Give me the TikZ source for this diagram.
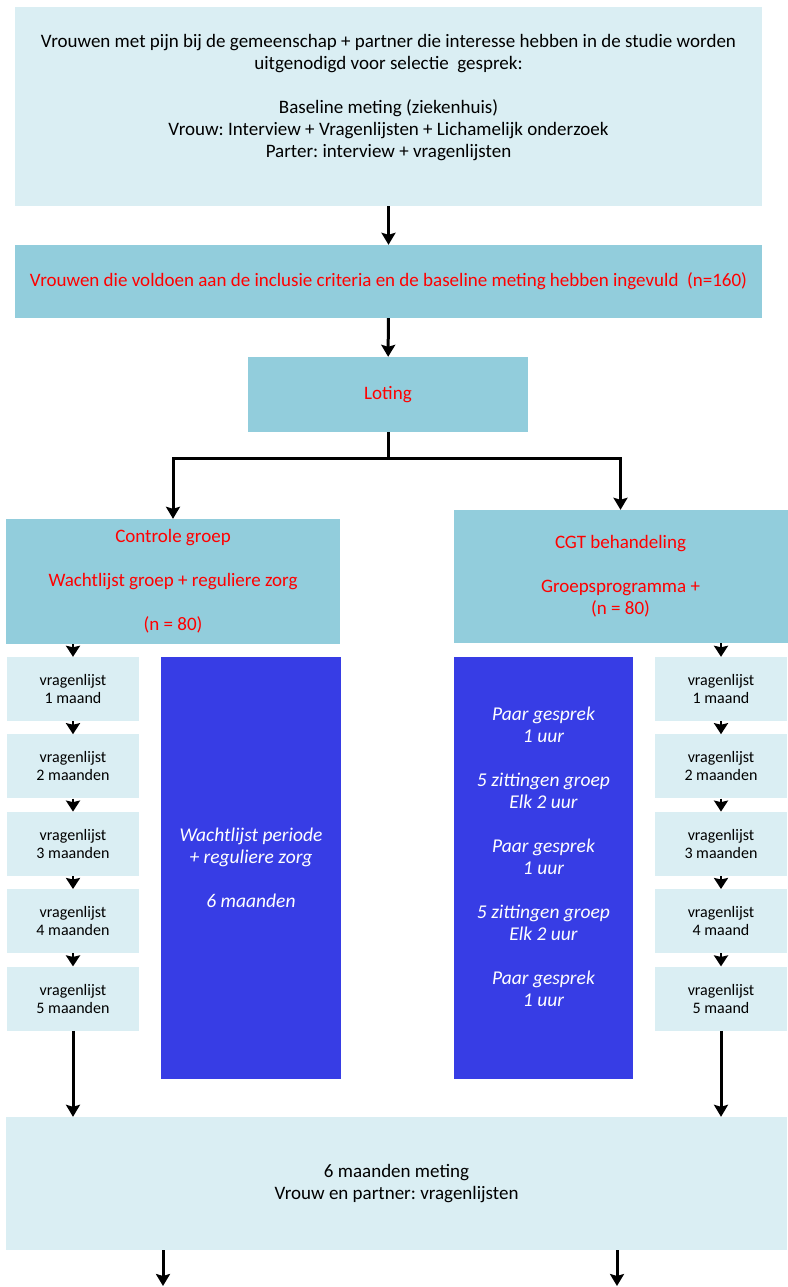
\documentclass[tikz,border=0pt]{standalone}
\usepackage{fontspec}
\setmainfont{Carlito}
\usetikzlibrary{arrows.meta,positioning}
\frenchspacing

\definecolor{paleblue}{HTML}{DAEEF3}
\definecolor{midblue}{HTML}{92CDDC}
\definecolor{deepblue}{HTML}{373DE5}
\definecolor{alert}{HTML}{FF0000}

\begin{document}
\begin{tikzpicture}[x=1pt,y=-1pt,node distance=13pt,pale/.style={fill=paleblue,inner sep=0pt,align=center,font=\fontsize{19}{22}\selectfont},mid/.style={fill=midblue,inner sep=0pt,align=center,text=alert,font=\fontsize{19}{22}\selectfont},period/.style={fill=deepblue,inner sep=0pt,align=center,text=white,font=\fontsize{19.5}{22}\selectfont\itshape,minimum height=422pt},quest/.style={fill=paleblue,inner sep=0pt,align=center,font=\fontsize{16}{18}\selectfont,minimum width=132pt,minimum height=64pt},arrow/.style={-{Stealth[length=12pt,width=14pt,inset=2pt]},line width=3pt},small/.style={-{Stealth[length=11pt,width=14pt,inset=1.5pt]},line width=2.5pt}]
\useasboundingbox (0,0) rectangle (787,1287);
\node[pale,minimum width=747pt,minimum height=199pt] (invite) at (388.5,106.5) {Vrouwen met pijn bij de gemeenschap + partner die interesse hebben in de studie worden\\uitgenodigd voor selectie\ \ gesprek:\\[22pt]Baseline meting (ziekenhuis)\\Vrouw: Interview + Vragenlijsten + Lichamelijk onderzoek\\Parter: interview + vragenlijsten\\ ~};
\node[mid,minimum width=747pt,minimum height=73pt] (incl) at (388.5,281.5) {Vrouwen die voldoen aan de inclusie criteria en de baseline meting hebben ingevuld\ \ (n=160)};
\node[mid,minimum width=280pt,minimum height=75pt] (lot) at (388,394.5) {Loting};
\draw[arrow] (invite) -- (incl); \draw[arrow] (incl) -- (lot);
\node[mid,minimum width=334pt,minimum height=125pt] (ctrl) at (173,581.5) {Controle groep\\[22pt]Wachtlijst groep + reguliere zorg\\[22pt](n = 80)};
\node[mid,minimum width=334pt,minimum height=133pt] (cgt) at (620.5,576.5) {CGT behandeling\\[22pt]Groepsprogramma +\\(n = 80)};
\coordinate (split) at (388,458);
\draw[line width=3pt] (lot) -- (split); \draw[arrow] (split) -| (ctrl); \draw[arrow] (split) -| (cgt);
\node[quest] (lq1) at (73,689) {vragenlijst\\1 maand};
\node[quest,below=of lq1] (lq2) {vragenlijst\\2 maanden};
\node[quest,below=of lq2] (lq3) {vragenlijst\\3 maanden};
\node[quest,below=of lq3] (lq4) {vragenlijst\\4 maanden};
\node[quest,below=of lq4] (lq5) {vragenlijst\\5 maanden};
\node[quest] (rq1) at (721,689) {vragenlijst\\1 maand};
\node[quest,below=of rq1] (rq2) {vragenlijst\\2 maanden};
\node[quest,below=of rq2] (rq3) {vragenlijst\\3 maanden};
\node[quest,below=of rq3] (rq4) {vragenlijst\\4 maand};
\node[quest,below=of rq4] (rq5) {vragenlijst\\5 maand};
\node[period,minimum width=180pt] (wait) at (251,868) {Wachtlijst periode\\+ reguliere zorg\\[22pt]6 maanden};
\node[period,minimum width=179pt] (prog) at (543.5,868) {Paar gesprek\\1 uur\\[22pt]5 zittingen groep\\Elk 2 uur\\[22pt]Paar gesprek\\1 uur\\[22pt]5 zittingen groep\\Elk 2 uur\\[22pt]Paar gesprek\\1 uur\\ ~};
\draw[small] (ctrl.south -| lq1) -- (lq1); \draw[small] (cgt.south -| rq1) -- (rq1);
\foreach \a/\b in {lq1/lq2,lq2/lq3,lq3/lq4,lq4/lq5,rq1/rq2,rq2/rq3,rq3/rq4,rq4/rq5} \draw[small] (\a) -- (\b);
\node[pale,minimum width=781pt,minimum height=133pt] (meet) at (396.5,1183.5) {6 maanden meting\\Vrouw en partner: vragenlijsten};
\draw[arrow] (lq5) -- (lq5 |- meet.north); \draw[arrow] (rq5) -- (rq5 |- meet.north);
\coordinate (outL) at (163,1286); \coordinate (outR) at (617,1286);
\draw[arrow] (meet.south -| outL) -- (outL); \draw[arrow] (meet.south -| outR) -- (outR);
\end{tikzpicture}
\end{document}
